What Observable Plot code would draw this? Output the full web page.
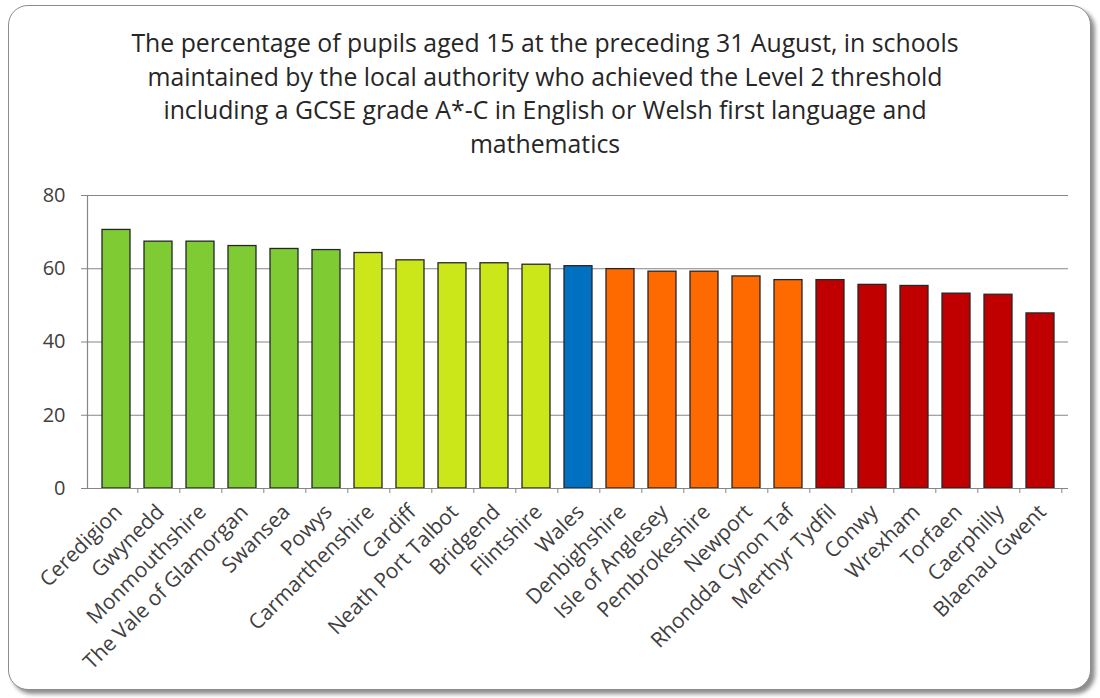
<!DOCTYPE html>
<html><head><meta charset="utf-8">
<script src="https://cdn.jsdelivr.net/npm/d3@7"></script>
<script src="https://cdn.jsdelivr.net/npm/@observablehq/plot@0.6"></script>
<style>
body{margin:0;background:#fff;}
#page{position:relative;width:1100px;height:698px;overflow:hidden;font-family:"Open Sans",sans-serif;}
#frame{position:absolute;left:8px;top:5px;width:1081px;height:683px;border:1.5px solid #8c8c8c;border-radius:20px;box-shadow:4px 4px 4px rgba(0,0,0,0.45);background:#fff;}
#title{position:absolute;left:0;width:1090px;top:26px;text-align:center;font-size:24.8px;line-height:33.5px;color:#262626;}
#chart{position:absolute;left:0;top:175px;}
#chart svg{color:#404040;}
</style></head>
<body><div id="page"><div id="frame"></div><div id="title"></div><div id="chart"></div></div>
<script>
const titleLines = [
  "The percentage of pupils aged 15 at the preceding 31 August, in schools",
  "maintained by the local authority who achieved the Level 2 threshold",
  "including a GCSE grade A*-C in English or Welsh first language and",
  "mathematics"
];
const names = ["Ceredigion","Gwynedd","Monmouthshire","The Vale of Glamorgan","Swansea","Powys",
  "Carmarthenshire","Cardiff","Neath Port Talbot","Bridgend","Flintshire","Wales",
  "Denbighshire","Isle of Anglesey","Pembrokeshire","Newport","Rhondda Cynon Taf",
  "Merthyr Tydfil","Conwy","Wrexham","Torfaen","Caerphilly","Blaenau Gwent"];
const values = [70.6,67.4,67.4,66.2,65.4,65.1,64.3,62.3,61.5,61.5,61.1,60.7,
  59.9,59.2,59.2,57.9,56.9,56.9,55.6,55.3,53.2,52.9,47.8];
const groups = ["q1","q1","q1","q1","q1","q1","q2","q2","q2","q2","q2","wales",
  "q3","q3","q3","q3","q3","q4","q4","q4","q4","q4","q4"];
const groupNames = ["q1","q2","wales","q3","q4"];
const groupColors = ["#7fcb33","#cbe619","#0070c0","#ff6a00","#c00000"];
const yTicks = [0,20,40,60,80];

document.getElementById("title").innerHTML = titleLines.map(l => `<div>${l.replace("&","&amp;")}</div>`).join("");

const data = names.map((n, i) => ({name: n, value: values[i], group: groups[i]}));

const W = 1100, H = 523, ML = 87, MR = 32, MT = 20, MB = 210;
const step = (W - ML - MR) / names.length;

const chart = Plot.plot({
  width: W, height: H,
  marginLeft: ML, marginRight: MR, marginTop: MT, marginBottom: MB,
  style: {fontFamily: "'Open Sans', sans-serif", background: "transparent"},
  x: {domain: names, paddingInner: 0.34, paddingOuter: 0.17, label: null},
  y: {domain: [0, 80], label: null},
  color: {domain: groupNames, range: groupColors},
  marks: [
    Plot.gridY(yTicks, {stroke: "#868686", strokeOpacity: 1, strokeWidth: 1.2}),
    Plot.frame({anchor: "left", stroke: "#868686", strokeWidth: 1.2}),
    Plot.barY(data, {x: "name", y: "value", fill: "group", stroke: "#262626", strokeWidth: 1.3}),
    Plot.ruleY([0], {stroke: "#868686", strokeWidth: 1.2}),
    Plot.axisY({ticks: yTicks, tickSize: 6, tickPadding: 16, fontSize: 20, stroke: "#868686", label: null}),
    Plot.axisX({tickSize: 5, tickFormat: () => "", dx: step / 2, stroke: "#868686", label: null}),
    Plot.axisX({tickSize: 0, tickRotate: -45, tickPadding: 10, dx: 2, dy: 10, fontSize: 21, label: null})
  ]
});
document.getElementById("chart").appendChild(chart);
</script>
</body></html>
